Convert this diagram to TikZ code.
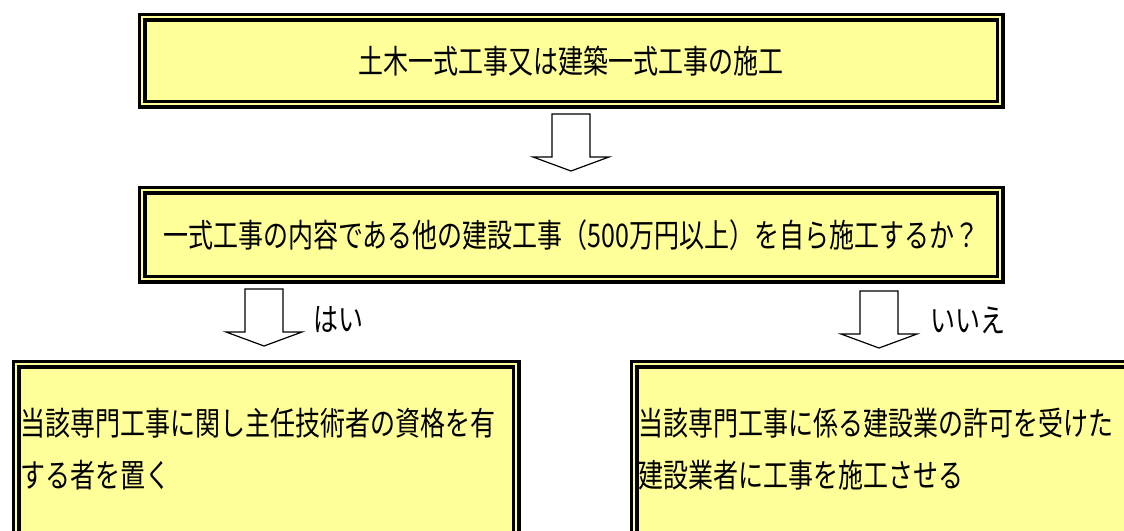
\documentclass[tikz,border=0pt]{standalone}
\usepackage{fontspec}
\newfontfamily\jp{Noto Sans CJK JP}
\definecolor{boxyellow}{RGB}{255,255,153}
\newcommand{\tall}[1]{\scalebox{1}[1.3]{#1}}
\newcommand{\twolines}[2]{\scalebox{1}[1.3]{\begin{tabular}{@{}l@{}}#1\\#2\end{tabular}}}
\begin{document}
\begin{tikzpicture}[x=1pt,y=-1pt,
  box/.style={draw=black, double=boxyellow, double distance=2pt, line width=3.5pt,
    fill=boxyellow, inner sep=0pt, anchor=north west},
  boxtext/.style={font=\jp\fontsize{25}{40}\selectfont, inner sep=0pt, text=black},
  arrowline/.style={draw=black, fill=white, line width=1.2pt, line join=miter},
  blockarrow/.pic={\path[arrowline] (-19,0) -- (-19,43) -- (-38,43) -- (0,57) -- (38,43) -- (19,43) -- (19,0) -- cycle;}
]
\useasboundingbox (0,0) rectangle (1124,530);
% top box
\node[box, minimum width=858pt, minimum height=87pt] (top) at (140.5,15.5) {};
\node[boxtext] (toptext) at (top.center) {\tall{土木一式工事又は建築一式工事の施工}};
% question box
\node[box, minimum width=858pt, minimum height=89pt] (q) at (140.5,188.5) {};
\node[boxtext] (qtext) at (q.center) {\tall{一式工事の内容である他の建設工事（500万円以上）を自ら施工するか？}};
% arrows
\pic at (571,114) {blockarrow};
\pic at (264,289) {blockarrow};
\pic at (879,291) {blockarrow};
\node[boxtext] (yes) at (338,320) {\tall{はい}};
\node[boxtext] (no) at (968,320) {\tall{いいえ}};
% bottom boxes (clipped)
\begin{scope}
\clip (0,0) rectangle (1124,530);
\node[box, minimum width=500pt, minimum height=220pt] (left) at (14.5,362.5) {};
\node[box, minimum width=540pt, minimum height=220pt] (right) at (632.5,362.5) {};
\end{scope}
\node[boxtext, anchor=west] (lefttext) at (20,451) {\twolines{当該専門工事に関し主任技術者の資格を有}{する者を置く}};
\node[boxtext, anchor=west] (righttext) at (638,451) {\twolines{当該専門工事に係る建設業の許可を受けた}{建設業者に工事を施工させる}};
\end{tikzpicture}
\end{document}
